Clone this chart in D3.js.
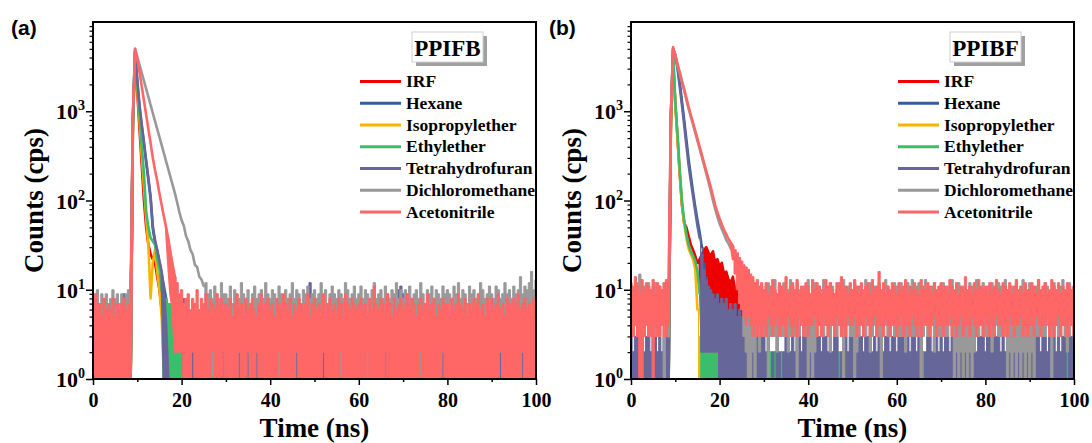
<!DOCTYPE html>
<html>
<head>
<meta charset="utf-8">
<script src="https://cdn.jsdelivr.net/npm/d3@7"></script>
<style>
body { margin: 0; background: #fff; }
svg text { font-family: "Liberation Serif", "Times New Roman", serif; font-weight: bold; fill: #000; }
</style>
</head>
<body>
<div id="chart"></div>
<script>
// time-resolved PL decays, counts binned every 0.5 ns (bin i -> t = i*0.5 ns)
// for every bin: hi = highest count seen in the bin, lo = lowest count (1 = axis floor)
const binWidth = 0.5;
const solvents = ["IRF", "Hexane", "Isopropylether", "Ethylether", "Tetrahydrofuran", "Dichloromethane", "Acetonitrile"];
const compounds = ["PPIFB", "PPIBF"];
const panelTags = ["(a)", "(b)"];
const xTicks = [0, 20, 40, 60, 80, 100];
const xMinorTicks = [10, 30, 50, 70, 90];
const yTicks = [1, 10, 100, 1000];
// laser pulse arrives at 8.5 ns; time (ns) at which each decay sinks into the background
const riseAt = 8.5;
const aNoiseFrom = [16.5, 18, 16, 15.5, 17, 25, 18.5];
const bNoiseFrom = [25, 16, 15, 15.5, 15.5, 24, 23];

// ---------- (a) PPIFB ----------
const aIrfHi = [
5,4,6,4,5,3,5,4,6,5,4,5,3,6,4,5,4,5,
700,4500,1600,630,250,100,50,32,25,22,20,14,10,6,3,2,2,3,2,4,3,2,5,3,4,2,3,4,3,5,2,4,3,3,4,2,5,3,4,3,2,4,
3,4,2,5,3,3,4,2,4,5,3,2,4,3,5,4,2,3,4,3,
2,4,3,5,3,4,2,3,4,4,3,5,2,3,4,2,5,3,4,3,
4,3,2,4,5,3,3,4,2,4,3,5,4,2,3,4,3,2,5,4,
3,5,4,2,3,4,3,4,2,5,3,3,4,5,2,4,3,4,3,2,
4,2,3,5,4,3,2,4,3,4,5,3,2,4,3,5,4,3,2,4,
3,4,5,2,3,4,4,3,2,5,4,3,3,4,2,3,5,4,3,4,
2,4,3,5,3,4,2,4,3,3,5,4,2,3,4,3,4,2,5,3,4];
const aIrfLo = [
1,1,1,1,1,1,1,1,1,1,1,1,1,1,1,1,1,1,
700,4500,1600,630,250,100,50,32,25,22,20,14,10,6,3,2,1,1,1,1,1,1,1,1,1,1,1,1,1,1,1,1,1,1,1,1,1,1,1,1,1,1,
1,1,1,1,1,1,1,1,1,1,1,1,1,1,1,1,1,1,1,1,
1,1,1,1,1,1,1,1,1,1,1,1,1,1,1,1,1,1,1,1,
1,1,1,1,1,1,1,1,1,1,1,1,1,1,1,1,1,1,1,1,
1,1,1,1,1,1,1,1,1,1,1,1,1,1,1,1,1,1,1,1,
1,1,1,1,1,1,1,1,1,1,1,1,1,1,1,1,1,1,1,1,
1,1,1,1,1,1,1,1,1,1,1,1,1,1,1,1,1,1,1,1,
1,1,1,1,1,1,1,1,1,1,1,1,1,1,1,1,1,1,1,1,1];

const aHexHi = [
5,3,4,6,4,3,5,4,4,5,3,6,4,5,3,4,5,4,
800,4700,2100,1100,680,430,270,170,105,48,34,27,20,15,11,8,5,3,2,4,3,2,5,3,4,3,2,4,3,5,2,3,4,3,4,2,5,3,4,2,3,4,
4,2,3,5,3,4,3,2,4,3,3,5,4,2,3,4,5,3,2,4,
3,4,2,3,5,4,3,3,2,4,4,3,5,2,3,4,3,4,2,5,
3,2,4,4,3,5,2,3,4,3,2,4,5,3,4,2,3,4,3,4,
5,3,2,4,3,4,3,5,2,3,4,4,2,3,5,3,4,2,4,3,
2,4,3,3,5,4,2,3,4,3,5,2,4,3,3,4,2,5,3,4,
4,3,5,3,2,4,3,4,2,5,3,4,3,2,4,3,5,4,3,2,
3,4,2,5,4,3,3,2,4,4,3,5,2,3,4,4,3,2,5,3,4];
const aHexLo = [
1,1,1,1,1,1,1,1,1,1,1,1,1,1,1,1,1,1,
800,4700,2100,1100,680,430,270,170,105,48,34,27,20,15,11,8,5,3,1,1,1,1,1,1,1,1,1,1,1,1,1,1,1,1,1,1,1,1,1,1,1,1,
1,1,1,1,1,1,1,1,1,1,1,1,1,1,1,1,1,1,1,1,
1,1,1,1,1,1,1,1,1,1,1,1,1,1,1,1,1,1,1,1,
1,1,1,1,1,1,1,1,1,1,1,1,1,1,1,1,1,1,1,1,
1,1,1,1,1,1,1,1,1,1,1,1,1,1,1,1,1,1,1,1,
1,1,1,1,1,1,1,1,1,1,1,1,1,1,1,1,1,1,1,1,
1,1,1,1,1,1,1,1,1,1,1,1,1,1,1,1,1,1,1,1,
1,1,1,1,1,1,1,1,1,1,1,1,1,1,1,1,1,1,1,1,1];

const aIsoHi = [
3,4,5,3,4,6,3,4,5,3,4,3,5,4,3,5,4,3,
600,4000,1800,800,320,140,63,32,8,20,28,16,10,5,2,3,2,4,3,2,3,4,2,3,3,4,2,3,4,3,2,4,3,2,3,4,3,2,3,4,2,3,
3,2,4,3,3,2,4,3,2,3,4,3,2,4,3,3,2,4,3,2,
4,3,2,3,4,2,3,3,4,2,3,4,3,2,3,4,2,3,3,4,
2,3,4,3,2,4,3,2,3,4,3,3,2,4,3,2,4,3,3,2,
3,4,2,3,3,4,2,3,4,3,2,3,4,2,3,3,4,2,3,4,
3,2,3,4,2,3,4,3,3,2,4,3,2,3,4,3,2,4,3,3,
2,4,3,3,2,3,4,2,3,4,3,2,3,3,4,2,3,4,2,3,
4,3,2,3,4,3,2,3,3,4,2,3,4,3,2,3,4,2,3,3,4];
const aIsoLo = [
1,1,1,1,1,1,1,1,1,1,1,1,1,1,1,1,1,1,
600,4000,1800,800,320,140,63,32,8,20,28,16,10,5,1,1,1,1,1,1,1,1,1,1,1,1,1,1,1,1,1,1,1,1,1,1,1,1,1,1,1,1,
1,1,1,1,1,1,1,1,1,1,1,1,1,1,1,1,1,1,1,1,
1,1,1,1,1,1,1,1,1,1,1,1,1,1,1,1,1,1,1,1,
1,1,1,1,1,1,1,1,1,1,1,1,1,1,1,1,1,1,1,1,
1,1,1,1,1,1,1,1,1,1,1,1,1,1,1,1,1,1,1,1,
1,1,1,1,1,1,1,1,1,1,1,1,1,1,1,1,1,1,1,1,
1,1,1,1,1,1,1,1,1,1,1,1,1,1,1,1,1,1,1,1,
1,1,1,1,1,1,1,1,1,1,1,1,1,1,1,1,1,1,1,1,1];

const aEthHi = [
4,3,4,5,3,4,3,5,4,3,6,4,3,4,5,3,4,4,
700,4200,2000,950,417,200,76,50,38,35,32,22,17,10,8,8,7,7,6,3,2,2,2,3,2,3,2,2,3,2,3,2,3,2,2,3,2,3,2,3,2,2,
2,3,2,2,3,2,3,2,2,3,2,3,3,2,2,3,2,2,3,2,
3,2,2,3,2,3,2,2,3,2,3,2,2,3,3,2,2,3,2,3,
2,2,3,2,3,2,3,3,2,2,3,2,3,2,2,3,2,3,2,2,
3,2,3,2,2,3,2,3,2,3,2,2,3,2,3,3,2,2,3,2,
2,3,2,3,3,2,2,3,2,2,3,2,3,2,3,2,2,3,2,3,
2,2,3,2,3,2,3,2,2,3,2,3,2,3,2,2,3,2,3,2,
3,2,2,3,2,3,2,3,2,2,3,2,2,3,2,3,2,3,2,2,3];
const aEthLo = [
1,1,1,1,1,1,1,1,1,1,1,1,1,1,1,1,1,1,
700,4200,2000,950,417,200,76,50,38,35,32,22,17,10,1,1,1,1,1,1,1,1,1,1,1,1,1,1,1,1,1,1,1,1,1,1,1,1,1,1,1,1,
1,1,1,1,1,1,1,1,1,1,1,1,1,1,1,1,1,1,1,1,
1,1,1,1,1,1,1,1,1,1,1,1,1,1,1,1,1,1,1,1,
1,1,1,1,1,1,1,1,1,1,1,1,1,1,1,1,1,1,1,1,
1,1,1,1,1,1,1,1,1,1,1,1,1,1,1,1,1,1,1,1,
1,1,1,1,1,1,1,1,1,1,1,1,1,1,1,1,1,1,1,1,
1,1,1,1,1,1,1,1,1,1,1,1,1,1,1,1,1,1,1,1,
1,1,1,1,1,1,1,1,1,1,1,1,1,1,1,1,1,1,1,1,1];

const aThfHi = [
4,5,3,6,4,5,4,3,5,4,6,4,5,4,9,5,4,6,
800,4800,2240,1170,710,450,280,178,112,52,36,28,21,16,10,4,1,1,1,1,1,1,1,8,4,3,5,4,3,5,4,4,3,4,5,3,4,5,3,4,4,3,
4,3,5,4,3,4,5,3,4,4,3,5,4,3,4,5,3,4,4,3,
4,5,3,4,4,3,5,4,3,4,4,5,3,4,3,4,5,3,12,4,
3,4,5,4,3,4,4,5,3,4,3,4,5,4,3,4,4,3,5,4,
4,3,4,5,3,4,4,3,5,4,3,4,4,5,3,4,3,4,10,11,
9,4,3,5,4,3,4,4,5,3,4,4,3,5,4,3,4,5,3,4,
4,3,5,4,4,3,4,5,3,4,4,3,5,4,3,4,4,5,3,4,
3,4,4,5,3,4,3,4,5,4,3,4,4,3,5,9,4,3,4,5,4];
const aThfLo = [
1,1,1,1,1,1,1,1,1,1,1,1,1,1,1,1,1,1,
800,4800,2240,1170,710,450,280,178,112,52,36,28,21,16,1,1,1,1,1,1,1,1,1,1,1,1,1,1,1,1,1,1,1,1,1,1,1,1,1,1,1,2,
1,1,1,1,1,1,1,1,1,1,1,1,1,1,1,1,1,1,1,1,
1,1,1,1,1,1,1,1,1,1,1,1,1,1,1,1,1,1,1,1,
1,1,1,1,1,1,1,1,1,1,1,1,1,1,1,1,1,1,1,1,
1,1,1,1,1,1,1,1,1,1,1,1,2,1,1,1,1,1,1,1,
1,1,1,1,1,1,1,1,1,1,1,1,1,1,1,1,1,1,1,1,
1,1,1,1,1,1,1,1,1,1,1,1,1,1,1,1,1,1,1,1,
1,1,1,1,1,1,1,1,1,1,1,1,1,1,1,1,1,1,1,1,1];

const aDcmHi = [
9,8,10,7,9,8,9,7,8,10,8,9,7,9,8,9,10,8,
900,5000,4070,3310,2690,2190,1780,1450,1175,955,776,630,513,417,339,275,224,182,148,120,95,74,60,52,40,35,28,25,19,18,14,13,11,12,9,10,8,11,9,8,12,9,
9,8,11,7,10,9,8,12,9,8,10,7,9,11,8,9,10,8,12,9,
8,10,9,7,11,9,8,10,8,9,12,8,10,9,7,10,9,11,8,9,
10,8,9,12,8,10,7,9,11,9,8,10,9,8,12,10,8,9,11,8,
9,11,8,10,9,7,10,12,8,9,10,8,11,9,8,10,9,12,8,10,
8,10,9,11,8,9,10,8,12,9,7,10,9,11,8,10,9,8,11,9,
10,9,8,11,9,12,8,10,9,7,11,9,10,8,9,12,10,8,9,11,
9,8,11,10,8,9,12,9,10,8,11,9,10,14,9,11,10,12,16,10,13];
const aDcmLo = [
1,1,1,1,1,1,1,1,1,1,1,1,1,1,1,1,1,1,
900,5000,4070,3310,2690,2190,1780,1450,1175,955,776,630,513,417,339,275,224,182,148,120,95,74,60,52,40,35,28,25,19,18,14,13,11,1,1,1,1,1,1,1,1,2,
1,1,1,1,1,1,2,1,1,1,2,1,1,1,2,1,1,1,1,1,
1,1,1,1,1,1,1,1,1,1,1,1,2,1,1,1,1,1,1,1,
1,1,1,1,2,1,1,1,1,1,1,1,1,1,1,1,1,1,1,1,
1,1,1,1,1,1,1,1,1,1,1,1,2,1,1,1,1,1,1,1,
1,1,1,1,1,1,1,1,1,1,1,1,1,1,1,1,1,1,2,1,
1,1,1,1,1,1,1,1,1,1,1,1,1,1,1,1,1,1,1,1,
1,1,1,1,2,1,1,1,1,1,1,1,1,1,2,1,1,1,1,1,1];

const aAcnHi = [
7,9,6,7,5,8,6,7,6,8,5,7,6,7,8,6,7,6,
900,5000,3800,2750,1900,1320,910,630,440,300,220,166,120,89,66,50,37,26,19,14,12,9,10,7,8,9,6,8,7,10,6,8,7,9,6,8,7,6,9,7,8,6,
7,6,8,5,7,9,6,7,5,8,6,7,8,6,5,7,9,6,7,8,
6,7,5,8,7,6,9,7,6,8,5,7,6,8,7,6,7,9,5,7,
8,6,7,6,9,5,7,8,6,7,6,8,7,5,9,7,6,8,7,6,
7,8,6,7,5,8,6,11,7,6,8,7,6,9,7,5,8,6,7,8,
6,7,9,6,8,7,5,7,8,6,7,9,6,7,8,5,7,6,8,7,
7,5,8,6,7,9,7,6,8,5,7,6,8,7,9,6,7,5,8,6,
8,6,7,9,6,7,5,8,7,6,8,7,9,6,7,8,6,7,5,8,7];
const aAcnLo = [
1,1,1,1,1,1,1,1,1,1,1,1,1,1,1,1,1,1,
900,5000,3800,2750,1900,1320,910,630,440,300,220,166,120,89,66,50,20,9,6,2,2,2,2,1,1,1,1,2,1,1,1,1,1,1,1,1,2,1,1,1,1,2,
1,1,1,1,1,1,2,1,1,1,2,1,1,1,2,1,1,1,1,1,
1,1,1,1,2,1,1,1,1,1,1,1,2,1,1,1,1,1,1,1,
1,1,1,1,2,1,1,1,1,1,1,1,2,1,1,1,1,1,1,1,
1,1,1,1,2,1,1,1,1,1,1,1,2,1,1,1,1,1,1,1,
1,1,1,1,1,1,1,1,2,1,1,1,1,1,1,1,1,1,2,1,
1,1,1,1,1,1,1,1,1,1,1,1,1,1,1,1,1,1,1,1,
1,1,1,1,2,1,1,1,1,1,1,1,1,1,2,1,1,1,1,1,1];

// ---------- (b) PPIBF ----------
const bIrfHi = [
2,2,1,2,2,2,1,2,2,2,2,1,2,2,2,2,1,2,
800,4000,1260,500,200,89,56,50,40,32,28,24,20,22,25,28,30,26,24,27,20,22,18,20,15,16,13,12,14,10,11,7,6,4,3,4,3,2,3,2,3,2,
2,2,1,2,2,2,1,2,2,2,2,1,2,2,2,2,1,2,2,2,
2,1,2,2,2,2,2,1,2,2,2,2,1,2,2,2,2,2,1,2,
2,2,2,1,2,2,2,2,2,1,2,2,2,1,2,2,2,2,2,2,
1,2,2,2,2,1,2,2,2,2,2,1,2,2,2,2,1,2,2,2,
2,2,1,2,2,2,2,2,1,2,2,2,2,1,2,2,2,2,1,2,
2,2,2,2,1,2,2,2,1,2,2,2,2,2,1,2,2,2,2,1,
2,1,2,2,2,2,1,2,2,2,2,2,1,2,2,2,2,1,2,2,2];
const bIrfLo = [
1,1,1,1,1,1,1,1,1,1,1,1,1,1,1,1,1,1,
800,4000,1260,500,200,89,56,50,40,32,28,24,20,22,2,2,2,2,2,2,2,2,2,2,2,2,2,2,2,2,2,2,2,2,2,1,1,1,1,1,1,1,
1,1,1,1,1,1,1,1,1,1,1,1,1,1,1,1,1,1,1,1,
1,1,1,1,1,1,1,1,1,1,1,1,1,1,1,1,1,1,1,1,
1,1,1,1,1,1,1,1,1,1,1,1,1,1,1,1,1,1,1,1,
1,1,1,1,1,1,1,1,1,1,1,1,1,1,1,1,1,1,1,1,
1,1,1,1,1,1,1,1,1,1,1,1,1,1,1,1,1,1,1,1,
1,1,1,1,1,1,1,1,1,1,1,1,1,1,1,1,1,1,1,1,
1,1,1,1,1,1,1,1,1,1,1,1,1,1,1,1,1,1,1,1,1];

const bHexHi = [
2,2,2,1,2,2,2,2,1,2,2,2,2,2,1,2,2,2,
900,5000,4300,3200,2100,1300,800,480,290,190,125,85,60,44,30,20,14,11,9,8,7,8,6,7,6,7,5,6,5,6,4,5,4,5,3,4,3,3,3,2,3,3,
2,1,2,2,2,2,1,2,2,2,1,2,2,2,2,1,2,2,2,2,
2,2,2,1,2,2,2,2,1,2,2,2,2,2,1,2,2,1,2,2,
1,2,2,2,2,1,2,2,2,2,2,1,2,2,2,2,1,2,2,2,
2,2,1,2,2,2,2,1,2,2,2,2,2,1,2,2,2,2,1,2,
2,1,2,2,2,2,2,1,2,2,1,2,2,2,2,2,1,2,2,2,
2,2,2,2,1,2,2,1,2,2,2,2,1,2,2,2,2,2,1,2,
1,2,2,2,2,1,2,2,2,2,1,2,2,2,2,2,1,2,2,2,2];
const bHexLo = [
1,1,1,1,1,1,1,1,1,1,1,1,1,1,1,1,1,1,
900,5000,4300,3200,2100,1300,800,480,290,190,125,85,60,44,30,1,1,1,1,1,1,1,1,1,1,1,1,1,1,1,1,1,1,1,1,1,1,1,1,1,1,1,
1,1,1,1,1,1,1,1,1,1,1,1,1,1,1,1,1,1,1,1,
1,1,1,1,1,1,1,1,1,1,1,1,1,1,1,1,1,1,1,1,
1,1,1,1,1,1,1,1,1,1,1,1,1,1,1,1,1,1,1,1,
1,1,1,1,1,1,1,1,1,1,1,1,1,1,1,1,1,1,1,1,
1,1,1,1,1,1,1,1,1,1,1,1,1,1,1,1,1,1,1,1,
1,1,1,1,1,1,1,1,1,1,1,1,1,1,1,1,1,1,1,1,
1,1,1,1,1,1,1,1,1,1,1,1,1,1,1,1,1,1,1,1,1];

const bIsoHi = [
2,1,2,2,2,2,1,2,2,2,2,2,1,2,2,2,2,1,
600,4200,1150,500,200,90,55,38,29,25,22,17,6,3,2,2,2,2,1,2,2,2,2,1,2,2,2,2,2,1,2,2,2,2,1,2,2,2,2,2,1,2,
2,2,1,2,2,1,2,2,2,2,2,1,2,2,1,2,2,2,2,1,
2,2,2,2,1,2,2,2,1,2,2,2,2,1,2,2,2,2,2,1,
2,1,2,2,2,2,2,1,2,2,2,1,2,2,2,2,2,1,2,2,
2,2,2,1,2,2,2,2,1,2,2,2,1,2,2,2,2,2,1,2,
1,2,2,2,2,2,1,2,2,2,2,1,2,2,2,1,2,2,2,2,
2,2,1,2,2,2,2,2,1,2,2,2,2,1,2,2,2,1,2,2,
2,2,2,1,2,2,2,1,2,2,2,2,2,1,2,2,2,2,1,2,2];
const bIsoLo = [
1,1,1,1,1,1,1,1,1,1,1,1,1,1,1,1,1,1,
600,4200,1150,500,200,90,55,38,29,25,22,17,6,1,1,1,1,1,1,1,1,1,1,1,1,1,1,1,1,1,1,1,1,1,1,1,1,1,1,1,1,1,
1,1,1,1,1,1,1,1,1,1,1,1,1,1,1,1,1,1,1,1,
1,1,1,1,1,1,1,1,1,1,1,1,1,1,1,1,1,1,1,1,
1,1,1,1,1,1,1,1,1,1,1,1,1,1,1,1,1,1,1,1,
1,1,1,1,1,1,1,1,1,1,1,1,1,1,1,1,1,1,1,1,
1,1,1,1,1,1,1,1,1,1,1,1,1,1,1,1,1,1,1,1,
1,1,1,1,1,1,1,1,1,1,1,1,1,1,1,1,1,1,1,1,
1,1,1,1,1,1,1,1,1,1,1,1,1,1,1,1,1,1,1,1,1];

const bEthHi = [
2,2,2,2,2,2,1,2,2,2,2,2,2,1,2,2,2,2,
700,4470,1260,560,224,100,60,42,32,27,24,21,16,9,4,2,2,3,2,2,2,2,3,2,2,2,3,2,2,2,2,3,2,2,2,2,3,2,2,2,2,2,
2,2,2,2,2,2,2,2,2,1,2,2,2,2,2,2,2,2,1,2,
2,2,2,1,2,2,2,2,2,2,2,2,2,2,2,2,2,2,2,2,
2,2,2,2,2,2,1,2,2,2,2,2,2,2,2,2,2,1,2,2,
2,2,2,2,2,2,2,2,2,2,1,2,2,2,2,2,2,2,2,2,
2,1,2,2,2,2,2,2,2,2,2,2,2,2,2,1,2,2,2,2,
2,2,2,2,2,2,2,1,2,2,2,2,2,2,2,2,2,2,2,2,
2,2,2,2,1,2,2,2,2,2,2,2,2,2,2,2,2,2,2,2,2];
const bEthLo = [
1,1,1,1,1,1,1,1,1,1,1,1,1,1,1,1,1,1,
700,4470,1260,560,224,100,60,42,32,27,24,21,16,9,1,1,1,1,1,1,1,1,1,1,1,1,1,1,1,1,1,1,1,1,1,1,1,1,1,1,1,1,
1,1,1,1,1,1,1,1,1,1,1,1,1,1,1,1,1,1,1,1,
1,1,1,1,1,1,1,1,1,1,1,1,1,1,1,1,1,1,1,1,
1,1,1,1,1,1,1,1,1,1,1,1,1,1,1,1,1,1,1,1,
1,1,1,1,1,1,1,1,1,1,1,1,1,1,1,1,1,1,1,1,
1,1,1,1,1,1,1,1,1,1,1,1,1,1,1,1,1,1,1,1,
1,1,1,1,1,1,1,1,1,1,1,1,1,1,1,1,1,1,1,1,
1,1,1,1,1,1,1,1,1,1,1,1,1,1,1,1,1,1,1,1,1];

const bThfHi = [
3,2,3,3,2,3,2,3,3,2,3,3,2,3,2,3,3,2,
850,5000,4170,3020,1900,1175,708,417,251,166,112,76,52,38,25,17,13,11,10,9,8,9,7,8,7,8,6,7,6,7,5,6,5,5,4,5,4,4,3,4,3,3,
3,2,3,1,2,1,3,2,1,2,3,3,2,3,2,3,3,2,3,3,
2,3,3,2,3,3,2,3,3,2,3,2,3,3,1,2,1,3,2,3,
3,3,2,3,3,2,3,3,3,2,3,2,3,3,2,3,3,2,3,3,
2,3,3,3,2,3,2,3,3,2,3,3,1,2,3,3,2,3,3,2,
3,2,3,3,2,3,3,2,3,3,3,2,3,2,3,3,2,3,3,3,
2,3,3,2,3,3,3,2,3,2,3,3,2,3,3,2,3,3,2,3,
3,3,2,3,3,2,3,3,2,3,3,3,2,3,2,3,3,1,3,3,2];
const bThfLo = [
1,1,1,1,1,1,1,1,1,1,1,1,1,1,1,1,1,1,
850,5000,4170,3020,1900,1175,708,417,251,166,112,76,52,38,2,2,2,2,2,2,2,2,1,1,1,1,1,1,1,1,1,1,1,1,1,1,1,1,1,1,1,1,
1,1,1,1,1,1,1,1,1,1,1,1,1,1,1,1,1,1,1,1,
1,1,1,1,1,1,1,1,1,1,1,1,1,1,1,1,1,1,1,1,
1,1,1,1,1,1,1,1,1,1,1,1,1,1,1,1,1,1,1,1,
1,1,1,1,1,1,1,1,1,1,1,1,1,1,1,1,1,1,1,1,
1,1,1,1,1,1,1,1,1,1,1,1,1,1,1,1,1,1,1,1,
1,1,1,1,1,1,1,1,1,1,1,1,1,1,1,1,1,1,1,1,
1,1,1,1,1,1,1,1,1,1,1,1,1,1,1,1,1,1,1,1,1];

const bDcmHi = [
10,11,9,12,15,10,11,9,12,10,11,12,9,11,10,12,11,10,
850,5000,4100,3250,2640,2100,1700,1350,1070,870,710,575,465,378,305,248,200,160,128,100,80,66,55,48,42,36,33,29,27,23,22,19,18,15,14,15,12,13,11,12,10,11,
9,11,12,8,10,13,9,11,10,12,9,10,13,11,9,12,10,8,11,10,
13,9,10,12,8,11,10,13,9,10,12,11,9,10,12,9,13,10,11,9,
10,12,9,11,10,8,13,10,12,9,11,10,12,9,10,13,11,9,10,12,
11,9,12,10,9,12,10,13,9,11,12,9,10,13,10,9,11,12,9,10,
10,12,9,11,10,13,9,10,12,9,11,10,9,12,11,10,13,9,10,12,
9,11,10,12,9,10,12,11,9,13,10,9,11,10,12,9,10,13,11,9,
12,10,9,11,13,9,10,12,11,9,10,12,10,9,11,13,9,10,12,10,11];
const bDcmLo = [
3,3,4,3,3,2,3,4,3,3,4,3,3,3,4,1,3,3,
850,5000,4100,3250,2640,2100,1700,1350,1070,870,710,575,465,378,305,248,200,160,128,100,80,66,55,48,42,36,33,29,27,23,22,10,6,3,2,1,1,2,1,3,2,3,
3,4,1,3,4,3,2,4,3,3,4,2,3,4,3,1,3,4,3,3,
1,2,1,2,3,4,3,3,4,3,2,4,3,3,4,3,1,3,4,3,
3,1,2,3,4,3,3,4,2,3,4,3,3,1,3,4,3,3,4,3,
4,3,3,4,2,3,4,3,3,4,3,1,3,4,3,3,4,2,3,3,
3,4,3,3,4,3,1,2,1,2,1,2,1,2,1,2,3,3,4,3,
3,3,4,2,3,4,3,3,4,3,1,2,1,2,1,2,1,2,1,2,
1,2,1,3,3,4,3,3,4,3,1,3,4,3,3,4,3,2,3,4,3];

const bAcnHi = [
12,10,14,11,9,13,10,12,11,10,13,9,12,11,10,12,13,11,
900,5250,4270,3390,2750,2190,1780,1410,1120,912,741,603,490,398,324,263,214,174,141,112,89,74,63,54,47,42,37,34,31,28,26,23,21,19,18,17,15,14,12,13,11,12,
10,12,9,11,13,10,9,12,11,10,14,9,11,12,10,13,9,11,10,12,
11,9,13,10,12,11,9,10,13,11,12,10,9,12,11,14,10,11,9,12,
10,13,11,9,12,10,11,12,9,13,10,11,16,10,12,9,11,10,12,11,
9,12,10,11,13,9,11,10,12,10,9,13,11,10,12,11,9,12,10,11,
12,10,11,9,13,11,10,12,9,11,10,14,10,11,9,12,10,13,11,10,
11,9,12,10,11,13,10,9,12,11,10,12,9,11,13,10,11,9,12,10,
10,12,11,9,13,10,11,12,9,10,13,11,10,12,9,11,10,12,11,10,11];
const bAcnLo = [
3,3,4,3,1,1,3,4,3,3,1,4,3,3,4,3,3,4,
900,5250,4270,3390,2750,2190,1780,1410,1120,912,741,603,490,398,324,263,214,174,141,112,89,74,63,54,47,42,37,34,22,15,10,7,6,5,4,5,4,3,4,3,4,3,
4,3,5,4,3,4,5,3,4,4,3,5,4,3,4,3,5,4,3,4,
3,4,4,5,3,4,3,5,4,3,4,4,3,5,4,3,4,3,5,4,
4,5,3,4,4,3,5,4,3,4,5,3,4,4,3,5,4,3,4,4,
3,4,5,3,4,4,3,5,4,3,4,3,5,4,4,3,4,5,3,4,
4,3,4,4,5,3,4,3,4,5,3,4,4,3,5,4,3,4,4,3,
5,4,3,4,3,5,4,4,3,4,3,5,4,3,4,4,5,3,4,3,
4,4,3,5,4,3,4,4,5,3,4,3,4,5,3,4,4,3,5,4,3];

const panelData = [
  [[aIrfHi, aIrfLo], [aHexHi, aHexLo], [aIsoHi, aIsoLo], [aEthHi, aEthLo], [aThfHi, aThfLo], [aDcmHi, aDcmLo], [aAcnHi, aAcnLo]],
  [[bIrfHi, bIrfLo], [bHexHi, bHexLo], [bIsoHi, bIsoLo], [bEthHi, bEthLo], [bThfHi, bThfLo], [bDcmHi, bDcmLo], [bAcnHi, bAcnLo]]
];
const noiseFrom = [aNoiseFrom, bNoiseFrom];

// styles
const colors = ["#ee0000", "#2f5f9f", "#f7b500", "#3cbd6c", "#666699", "#999999", "#ff6666"];
const W = 1092, H = 443;
const plotTop = 22, plotW = 443, plotH = 357;
const panelLeft = [93, 631];

const svg = d3.select("#chart").append("svg")
    .attr("width", W)
    .attr("height", H);

panelData.forEach((series, k) => drawPanel(series, k));

function drawPanel(series, k) {
    const left = panelLeft[k];
    const g = svg.append("g").attr("transform", `translate(${left},${plotTop})`);

    const x = d3.scaleLinear().domain([0, 100]).range([0, plotW]);
    const y = d3.scaleLog().domain([1, 10000]).range([plotH, 0]);

    const clipId = "clip" + k;
    g.append("clipPath").attr("id", clipId)
        .append("rect").attr("width", plotW).attr("height", plotH);

    const area = d3.area()
        .x(d => x(d.t))
        .y0(d => y(Math.max(1, d.lo)))
        .y1(d => y(Math.max(1, d.hi)));

    const curves = g.append("g").attr("clip-path", `url(#${clipId})`);
    series.forEach((s, j) => {
        const hi = s[0], lo = s[1];
        const pts = hi.map((v, i) => ({ t: i * binWidth, hi: v, lo: lo[i] !== undefined ? lo[i] : v }));
        const end = noiseFrom[k][j];
        // background counts drawn as histogram steps, the decay itself as a line
        const parts = [
            { pts: pts.filter(p => p.t <= riseAt), curve: d3.curveStep, w: 1 },
            { pts: pts.filter(p => p.t >= riseAt && p.t <= end), curve: d3.curveLinear, w: 2.6 },
            { pts: pts.filter(p => p.t >= end), curve: d3.curveStep, w: 1 }
        ];
        parts.forEach(part => {
            curves.append("path")
                .datum(part.pts)
                .attr("d", area.curve(part.curve))
                .attr("fill", colors[j])
                .attr("stroke", colors[j])
                .attr("stroke-width", part.w)
                .attr("stroke-linejoin", "round");
        });
    });

    // x axis
    const xAxis = g.append("g").attr("transform", `translate(0,${plotH})`)
        .call(d3.axisBottom(x).tickValues(xTicks).tickSize(6).tickPadding(8).tickFormat(d3.format("d")));
    xAxis.select(".domain").remove();
    xAxis.selectAll("line").attr("stroke-width", 1.5);
    xAxis.selectAll("text").attr("font-size", 20)
        .style("font-family", "'Liberation Serif', serif").style("font-weight", "bold");
    const xMinor = g.append("g").attr("transform", `translate(0,${plotH})`)
        .call(d3.axisBottom(x).tickValues(xMinorTicks).tickSize(3).tickFormat(""));
    xMinor.select(".domain").remove();
    xMinor.selectAll("line").attr("stroke-width", 1.5);

    // y axis
    const yAxis = g.append("g")
        .call(d3.axisLeft(y).tickValues(yTicks).tickSize(7).tickFormat(""));
    yAxis.select(".domain").remove();
    yAxis.selectAll("line").attr("stroke-width", 1.5);
    const minor = y.ticks().filter(d => Math.abs(Math.log10(d) - Math.round(Math.log10(d))) > 1e-6);
    const yMinor = g.append("g")
        .call(d3.axisLeft(y).tickValues(minor).tickSize(3.5).tickFormat(""));
    yMinor.select(".domain").remove();
    yMinor.selectAll("line").attr("stroke-width", 1.2);

    const yLab = g.append("g").selectAll("text").data(yTicks).join("text")
        .attr("x", -8)
        .attr("y", d => y(d) + 8)
        .attr("text-anchor", "end")
        .attr("font-size", 22);
    yLab.append("tspan").text("10");
    yLab.append("tspan").attr("dy", -9).attr("font-size", 14)
        .text(d => Math.round(Math.log10(d)));

    // frame
    g.append("rect")
        .attr("width", plotW).attr("height", plotH)
        .attr("fill", "none").attr("stroke", "#000").attr("stroke-width", 2);

    // axis titles
    g.append("text")
        .attr("x", plotW / 2).attr("y", 415)
        .attr("text-anchor", "middle").attr("font-size", 27)
        .text("Time (ns)");
    g.append("text")
        .attr("transform", `translate(-50,${plotH / 2}) rotate(-90)`)
        .attr("text-anchor", "middle").attr("font-size", 27)
        .text("Counts (cps)");

    // panel tag
    svg.append("text")
        .attr("x", left - 82).attr("y", 35)
        .attr("font-size", 21)
        .style("font-family", "'Liberation Sans', Arial, sans-serif")
        .text(panelTags[k]);

    // legend
    const leg = g.append("g");
    leg.append("rect").attr("x", 323).attr("y", 14).attr("width", 71).attr("height", 30).attr("fill", "#a0a0a0");
    leg.append("rect").attr("x", 319).attr("y", 10).attr("width", 71).attr("height", 30)
        .attr("fill", "#fff").attr("stroke", "#d0d0d0").attr("stroke-width", 1);
    leg.append("text").attr("x", 354.5).attr("y", 34)
        .attr("text-anchor", "middle").attr("font-size", 23)
        .text(compounds[k]);

    const rows = leg.selectAll("g.row").data(solvents).join("g")
        .attr("class", "row")
        .attr("transform", (d, i) => `translate(0,${65 + i * 21.75})`);
    rows.append("line")
        .attr("x1", 267).attr("x2", 308).attr("y1", -5.5).attr("y2", -5.5)
        .attr("stroke", (d, i) => colors[i]).attr("stroke-width", 3);
    rows.append("text")
        .attr("x", 313).attr("y", 0)
        .attr("font-size", 17.5)
        .text(d => d);
}
</script>
</body>
</html>
